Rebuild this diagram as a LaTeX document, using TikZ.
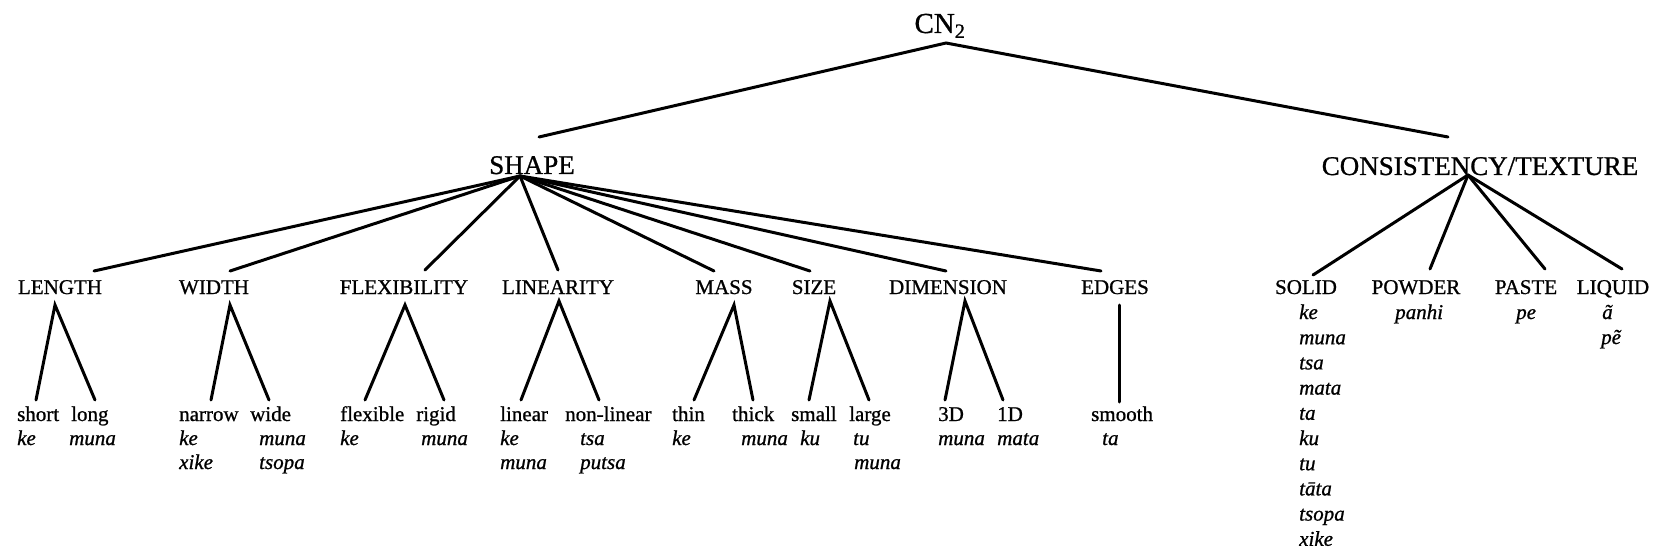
\documentclass[tikz,border=0pt]{standalone}
\usepackage{fontspec}
\setmainfont{Liberation Serif}[FakeBold=0.9]
\tikzset{
  br/.style={line width=3pt, line cap=round},
  toplab/.style={font=\fontsize{27}{30}\selectfont, inner sep=0pt, anchor=base},
  catlab/.style={font=\fontsize{21}{24}\selectfont, inner sep=0pt, anchor=base},
  leaf/.style={font=\fontsize{21}{24}\selectfont, inner sep=0pt, anchor=base west},
  form/.style={font=\fontsize{21}{24}\selectfont\itshape, inner sep=0pt, anchor=base west},
}
\begin{document}
\begin{tikzpicture}[x=1pt,y=-1pt]
\useasboundingbox (0,0) rectangle (1661,556);
% level 0 and 1
\node[toplab,font=\fontsize{29}{32}\selectfont] (cn) at (940,33) {CN\textsubscript{2}};
\node[toplab] (shape) at (532,174) {SHAPE};
\node[toplab] (cons) at (1480,175) {CONSISTENCY/TEXTURE};
\coordinate (cn-a) at (946,43);
\coordinate (shape-t) at (539,137);
\coordinate (cons-t) at (1448,137);
\coordinate (shape-a) at (520,176);
\coordinate (cons-a) at (1468,175);
\draw[br] (shape-t) -- (cn-a) -- (cons-t);
% level 2
\node[catlab] (length) at (60,294) {LENGTH};
\node[catlab] (width) at (214,294) {WIDTH};
\node[catlab] (flex) at (404,294) {FLEXIBILITY};
\node[catlab] (lin) at (558,294) {LINEARITY};
\node[catlab] (mass) at (724,294) {MASS};
\node[catlab] (size) at (814,294) {SIZE};
\node[catlab] (dim) at (948,294) {DIMENSION};
\node[catlab] (edges) at (1115,294) {EDGES};
\node[catlab] (solid) at (1306,294) {SOLID};
\node[catlab] (powder) at (1416,294) {POWDER};
\node[catlab] (paste) at (1526,294) {PASTE};
\node[catlab] (liquid) at (1613,294) {LIQUID};
\coordinate (length-t) at (94,271);
\coordinate (width-t) at (230,271);
\coordinate (flex-t) at (425,270);
\coordinate (lin-t) at (558,270);
\coordinate (mass-t) at (714,271);
\coordinate (size-t) at (810,271);
\coordinate (dim-t) at (946,271);
\coordinate (edges-t) at (1101,271);
\coordinate (solid-t) at (1313,275);
\coordinate (powder-t) at (1430,269);
\coordinate (paste-t) at (1545,269);
\coordinate (liquid-t) at (1622,269);
\foreach \c in {length,width,flex,lin,mass,size,dim,edges}
  \draw[br] (shape-a) -- (\c-t);
\foreach \c in {solid,powder,paste,liquid}
  \draw[br] (cons-a) -- (\c-t);
% apexes of the lower branches
\coordinate (length-a) at (55,305);
\coordinate (width-a) at (230,305);
\coordinate (flex-a) at (405,305);
\coordinate (lin-a) at (559,301);
\coordinate (mass-a) at (734,305);
\coordinate (size-a) at (830,301);
\coordinate (dim-a) at (965,301);
\coordinate (edges-a) at (1119,305);
% leaves
\node[leaf] (short) at (17,421) {short};
\node[leaf] (long) at (71,421) {long};
\node[form] (short1) at (17,445) {ke};
\node[form] (long1) at (69,445) {muna};
\node[leaf] (narrow) at (179,421) {narrow};
\node[leaf] (wide) at (250,421) {wide};
\node[form] (narrow1) at (179,445) {ke};
\node[form] (narrow2) at (179,469) {xike};
\node[form] (wide1) at (259,445) {muna};
\node[form] (wide2) at (259,469) {tsopa};
\node[leaf] (flexible) at (340,421) {flexible};
\node[leaf] (rigid) at (416,421) {rigid};
\node[form] (flexible1) at (340,445) {ke};
\node[form] (rigid1) at (421,445) {muna};
\node[leaf] (linear) at (500,421) {linear};
\node[leaf] (nonlinear) at (565,421) {non-linear};
\node[form] (linear1) at (500,445) {ke};
\node[form] (linear2) at (500,469) {muna};
\node[form] (nonlinear1) at (580,445) {tsa};
\node[form] (nonlinear2) at (580,469) {putsa};
\node[leaf] (thin) at (672,421) {thin};
\node[leaf] (thick) at (732,421) {thick};
\node[form] (thin1) at (672,445) {ke};
\node[form] (thick1) at (741,445) {muna};
\node[leaf] (small) at (791,421) {small};
\node[leaf] (large) at (849,421) {large};
\node[form] (small1) at (800,445) {ku};
\node[form] (large1) at (853,445) {tu};
\node[form] (large2) at (854,469) {muna};
\node[leaf] (threeD) at (938,421) {3D};
\node[leaf] (oneD) at (997,421) {1D};
\node[form] (threeD1) at (938,445) {muna};
\node[form] (oneD1) at (997,445) {mata};
\node[leaf] (smooth) at (1091,421) {smooth};
\node[form] (smooth1) at (1102,445) {ta};
\foreach \w [count=\i] in {ke,muna,tsa,mata,ta,ku,tu,tāta,tsopa,xike}
  \node[form] (solid\i) at (1299,{319+25.2*(\i-1)}) {\w};
\node[form] (powder1) at (1395,319) {panhi};
\node[form] (paste1) at (1516,319) {pe};
\node[form] (liquid1) at (1602,319) {ã};
\node[form] (liquid2) at (1601,344) {pẽ};
% leaf connectors
\coordinate (short-t) at (36,400);
\coordinate (long-t) at (95,400);
\coordinate (narrow-t) at (211,400);
\coordinate (wide-t) at (269,400);
\coordinate (flexible-t) at (365,400);
\coordinate (rigid-t) at (444,400);
\coordinate (linear-t) at (521,400);
\coordinate (nonlinear-t) at (599,400);
\coordinate (thin-t) at (694,400);
\coordinate (thick-t) at (753,400);
\coordinate (small-t) at (809,400);
\coordinate (large-t) at (869,400);
\coordinate (threeD-t) at (945,400);
\coordinate (oneD-t) at (1003,400);
\coordinate (smooth-t) at (1119,402);
\draw[br] (short-t) -- (length-a) -- (long-t);
\draw[br] (narrow-t) -- (width-a) -- (wide-t);
\draw[br] (flexible-t) -- (flex-a) -- (rigid-t);
\draw[br] (linear-t) -- (lin-a) -- (nonlinear-t);
\draw[br] (thin-t) -- (mass-a) -- (thick-t);
\draw[br] (small-t) -- (size-a) -- (large-t);
\draw[br] (threeD-t) -- (dim-a) -- (oneD-t);
\draw[br] (edges-a) -- (smooth-t);
\end{tikzpicture}
\end{document}
